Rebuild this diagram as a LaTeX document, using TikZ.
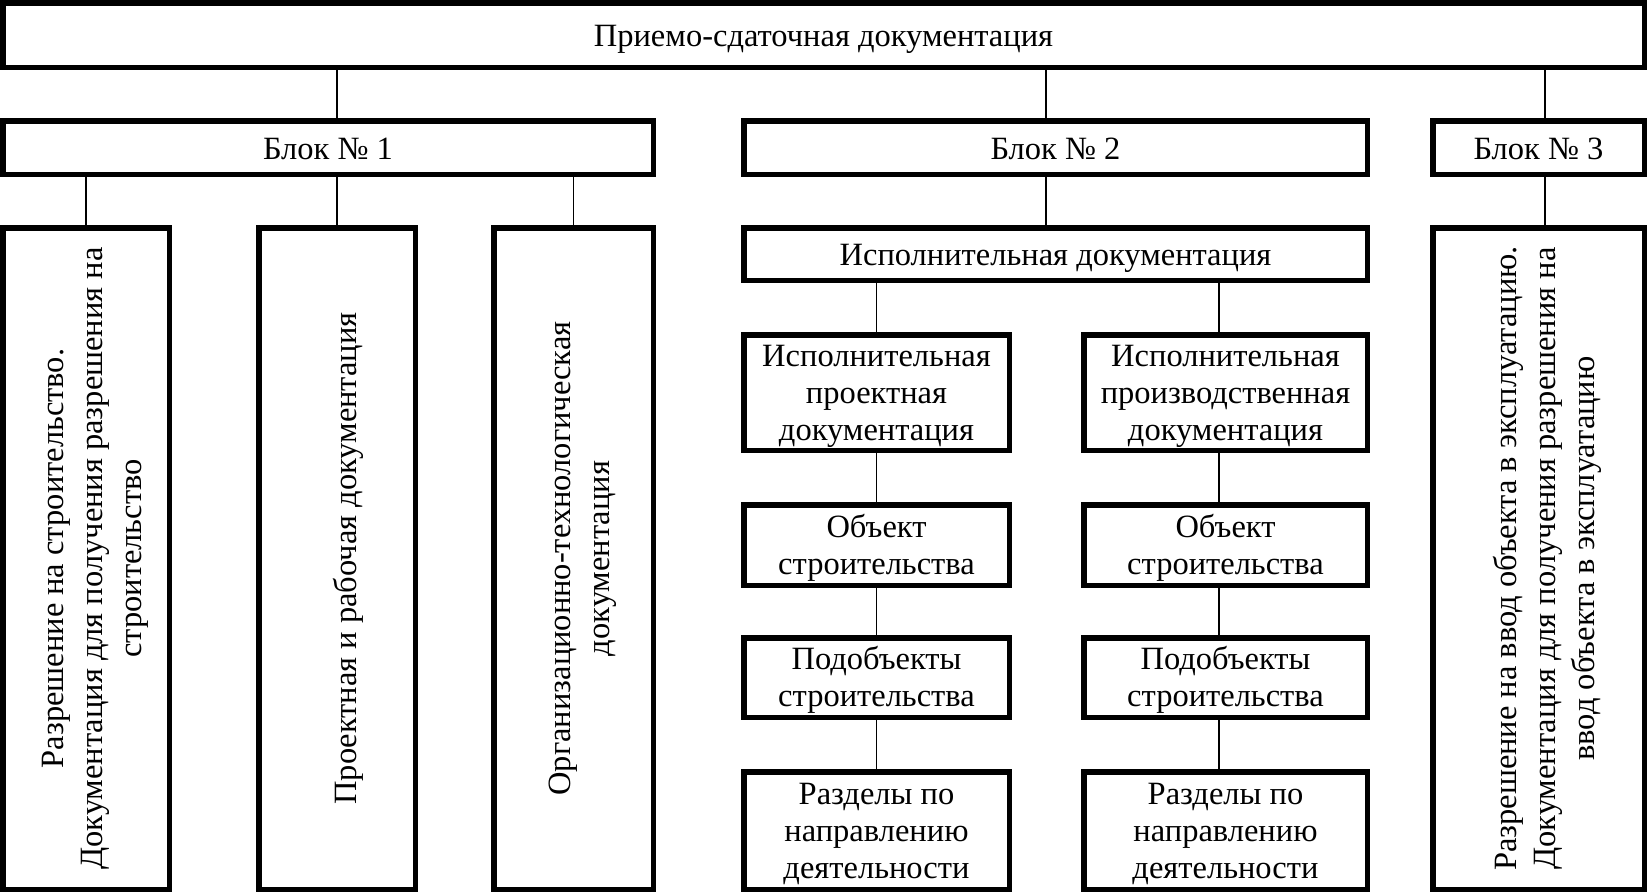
\documentclass[tikz,border=0pt]{standalone}
\usepackage{fontspec}
\setmainfont{Liberation Serif}
\usetikzlibrary{positioning}
\newcommand{\boxlines}[2][9pt]{\raisebox{-#1}[\height][\depth]{\begin{tabular}{@{}c@{}}#2\end{tabular}}}

\begin{document}
\begin{tikzpicture}[x=1pt, y=-1pt,
    card/.style={draw, line width=5.5pt, inner sep=0pt, align=center, font=\fontsize{32.5}{37}\selectfont,
        execute at begin node={\rule{0pt}{30.5pt}}, execute at end node={\rule[-7.5pt]{0pt}{7.5pt}}},
    lcard/.style={card, minimum width=265.5pt},
    rcard/.style={card, minimum width=283.5pt},
    tall/.style={card, rotate=90, minimum width=661.5pt, font=\fontsize{32.5}{39}\selectfont,
        execute at begin node={}, execute at end node={}},
    link/.style={line width=1.6pt}]
    \useasboundingbox (0,0) rectangle (1647,892);
    % top level and blocks
    \node[card, minimum width=1641.5pt, minimum height=64.5pt] (top) at (823.5,35) {Приемо-сдаточная документация};
    \node[card, minimum width=650.5pt, minimum height=53.5pt] (blk1) at (328,147.5) {Блок № 1};
    \node[card, minimum width=623.5pt, minimum height=53.5pt] (blk2) [right= 85pt of blk1] {Блок № 2};
    \node[card, minimum width=211.5pt, minimum height=53.5pt] (blk3) at (1538.5,147.5) {Блок № 3};
    \coordinate (axis2) at (1046,0);
    \coordinate (axis3) at (1545,0);
    \coordinate (axisR) at (1219,0);
    % block 1
    \node[tall, minimum height=166.5pt] (permit) at (86,558.5) {\boxlines{Разрешение на строительство.\\Документация для получения разрешения на\\строительство}};
    \node[tall, minimum height=156.5pt] (design) at (337,558.5) {\boxlines{Проектная и рабочая документация}};
    \node[tall, minimum height=159.5pt] (orgtech) at (573.5,558.5) {\boxlines{Организационно-технологическая\\документация}};
    % block 3
    \node[tall, minimum height=211.5pt] (commis) at (1538.5,558.5) {\boxlines{Разрешение на ввод объекта в эксплуатацию.\\Документация для получения разрешения на\\ввод объекта в эксплуатацию}};
    % block 2
    \node[card, minimum width=623.5pt, minimum height=52.5pt] (idoc) [below= 48pt of blk2] {Исполнительная документация};
    \node[lcard, minimum height=115.5pt] (proj) [below right= 49pt and 0pt of idoc.south west] {\boxlines[3.5pt]{Исполнительная\\проектная\\документация}};
    \node[lcard, minimum height=80.5pt] (obj1) [below= 49pt of proj] {\boxlines[3.5pt]{Объект\\строительства}};
    \node[lcard, minimum height=79.5pt] (sub1) [below= 47pt of obj1] {\boxlines[3.5pt]{Подобъекты\\строительства}};
    \node[lcard, minimum height=117.5pt] (sec1) [below= 49pt of sub1] {\boxlines[3.5pt]{Разделы по\\направлению\\деятельности}};
    \node[rcard, minimum height=115.5pt] (prod) [below left= 49pt and 0pt of idoc.south east] {\boxlines[3.5pt]{Исполнительная\\производственная\\документация}};
    \node[rcard, minimum height=80.5pt] (obj2) [below= 49pt of prod] {\boxlines[3.5pt]{Объект\\строительства}};
    \node[rcard, minimum height=79.5pt] (sub2) [below= 47pt of obj2] {\boxlines[3.5pt]{Подобъекты\\строительства}};
    \node[rcard, minimum height=117.5pt] (sec2) [below= 49pt of sub2] {\boxlines[3.5pt]{Разделы по\\направлению\\деятельности}};
    % connectors
    \draw[link] (top.south -| design) -- (blk1.north -| design);
    \draw[link] (top.south -| axis2) -- (blk2.north -| axis2);
    \draw[link] (top.south -| axis3) -- (blk3.north -| axis3);
    \foreach \n in {permit, design, orgtech}
        \draw[link] (blk1.south -| \n) -- (\n.east);
    \draw[link] (blk2.south -| axis2) -- (idoc.north -| axis2);
    \draw[link] (blk3.south -| axis3) -- (commis.east -| axis3);
    \draw[link] (idoc.south -| proj) -- (proj.north);
    \draw[link] (idoc.south -| axisR) -- (prod.north -| axisR);
    \foreach \a/\b in {proj/obj1, obj1/sub1, sub1/sec1}
        \draw[link] (\a.south) -- (\b.north);
    \foreach \a/\b in {prod/obj2, obj2/sub2, sub2/sec2}
        \draw[link] (\a.south -| axisR) -- (\b.north -| axisR);
\end{tikzpicture}
\end{document}
